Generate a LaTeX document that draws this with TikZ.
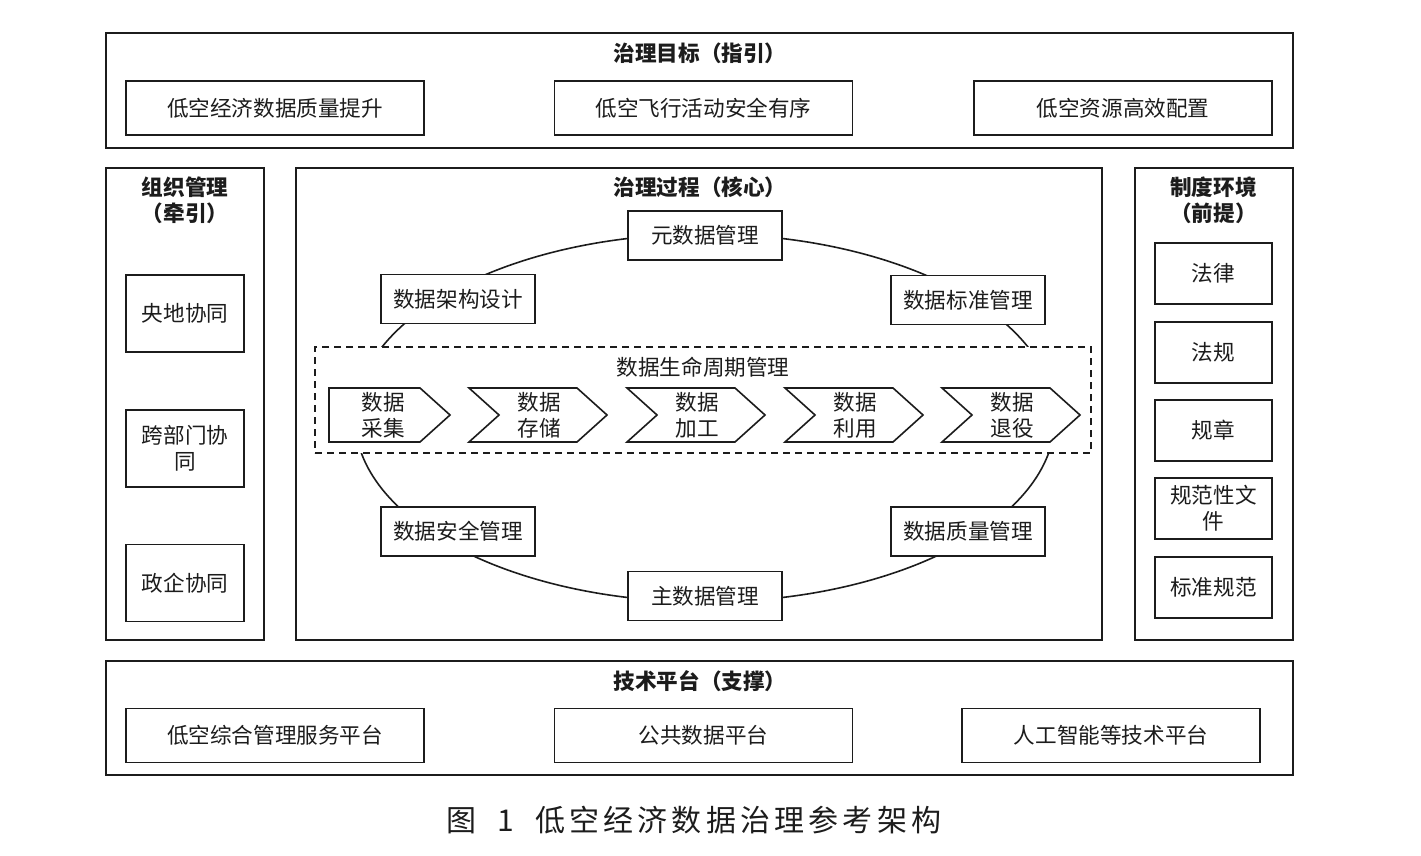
\documentclass[tikz,border=0pt]{standalone}
\usepackage{fontspec}
\setmainfont{Noto Sans CJK SC}
\newfontfamily\capfont[LetterSpace=14]{Noto Sans CJK SC}
\definecolor{ink}{HTML}{1C1C1C}

\begin{document}
\begin{tikzpicture}[x=0.5pt,y=-0.5pt,text=ink,font=\fontsize{10.8}{13}\selectfont,
  frame/.style={draw=ink,line width=1pt},
  head/.style={font=\fontsize{10.8}{13}\selectfont\bfseries,align=center},
  item/.style={draw=ink,fill=white,line width=0.8pt,inner sep=0pt,align=center},
  chev/.style={draw=ink,fill=white,line width=0.8pt,line join=miter}]
  \useasboundingbox (0,0) rectangle (1421,856);

  % goals
  \draw[frame] (106,33) rectangle (1293,148);
  \node[head] (goalhead) at (700,53) {治理目标（指引）};
  \foreach \x/\t [count=\i] in {275/低空经济数据质量提升,703.5/低空飞行活动安全有序,1123/低空资源高效配置}
    \node[item,minimum width=149pt,minimum height=27pt] (goal\i) at (\x,108) {\t};

  % organisation
  \draw[frame] (106,168) rectangle (264,640);
  \node[head] (orghead) at (185,200) {组织管理\\（牵引）};
  \foreach \y/\t [count=\i] in {313.5/央地协同,448.5/跨部门协\\同,583/政企协同}
    \node[item,minimum width=59pt,minimum height=38.5pt] (org\i) at (185,\y) {\t};

  % institutions
  \draw[frame] (1135,168) rectangle (1293,640);
  \node[head] (inshead) at (1213.5,200) {制度环境\\（前提）};
  \foreach \y/\t [count=\i] in {273.5/法律,352.5/法规,430.5/规章,508.5/规范性文\\件,587.5/标准规范}
    \node[item,minimum width=58.5pt,minimum height=30.5pt] (ins\i) at (1213.5,\y) {\t};

  % process
  \draw[frame] (296,168) rectangle (1102,640);
  \node[head] (prochead) at (700,187) {治理过程（核心）};
  \coordinate (hub) at (705,418);
  \draw[ink,line width=0.8pt] (hub) ellipse [x radius=175pt,y radius=92pt];
  \node[draw=ink,fill=white,dashed,dash pattern=on 3.5pt off 2.5pt,line width=0.8pt,
    minimum width=388pt,minimum height=53pt] (life) at (703,400) {};
  \node (lifehead) at (703,367) {数据生命周期管理};
  \foreach \x/\y/\t/\n in {705/235.5/元数据管理/meta,458/299/数据架构设计/arch,968/300/数据标准管理/std,
    458/531.5/数据安全管理/sec,968/531.5/数据质量管理/qual,705/596/主数据管理/master}
    \node[item,minimum width=77pt,minimum height=24.5pt] (\n) at (\x,\y) {\t};

  % lifecycle steps
  \draw[chev] (329,388) -- (420,388) -- (450,415) -- (420,442) -- (329,442) -- cycle;
  \node[align=center] (step1) at (383,415) {数据\\采集};
  \foreach \x/\t [count=\i from 2] in {469/存储,627/加工,785/利用,942/退役}{
    \draw[chev] (\x,388) -- ++(108,0) -- ++(30,27) -- ++(-30,27) -- ++(-108,0) -- ++(30,-27) -- cycle;
    \node[align=center] (step\i) at (\x+70,415) {数据\\\t};
  }

  % platforms
  \draw[frame] (106,661) rectangle (1293,775);
  \node[head] (plathead) at (700,681) {技术平台（支撑）};
  \foreach \x/\t [count=\i] in {275/低空综合管理服务平台,703.5/公共数据平台,1111/人工智能等技术平台}
    \node[item,minimum width=149pt,minimum height=27pt] (plat\i) at (\x,735.5) {\t};

  \node[font=\capfont\fontsize{15}{18}\selectfont] (caption) at (694,820)
    {图\hspace{5pt} 1\hspace{5pt} 低空经济数据治理参考架构};
\end{tikzpicture}
\end{document}
